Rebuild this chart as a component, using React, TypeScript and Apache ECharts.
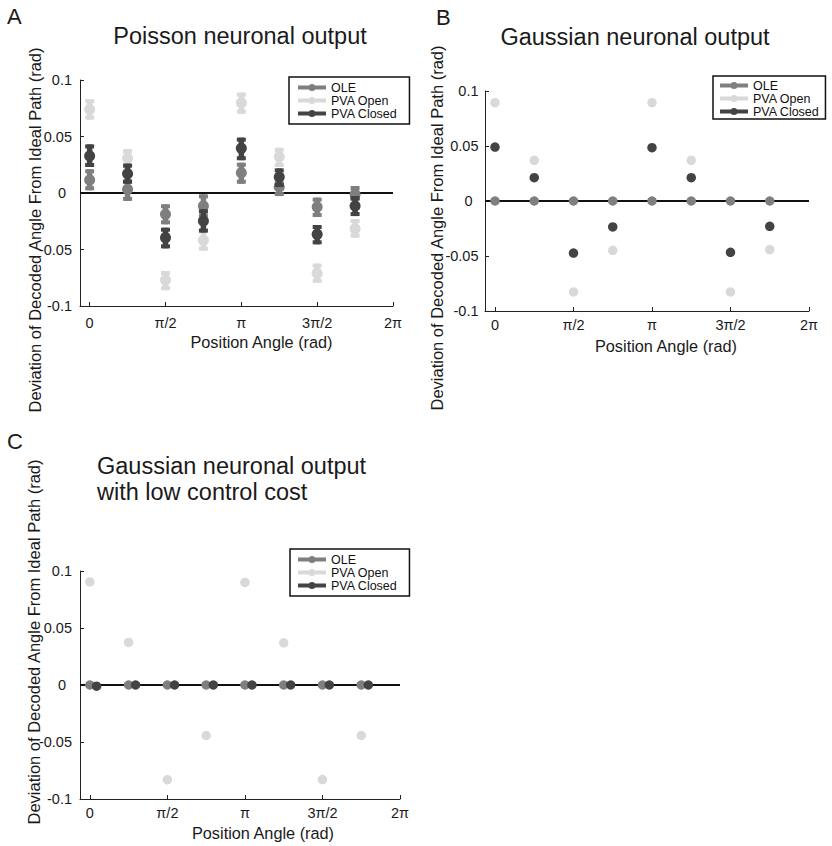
import React, { useEffect, useRef } from 'react';
import * as echarts from 'echarts';

const PI = Math.PI;
const FONT = '"Liberation Sans", Arial, Helvetica, sans-serif';

// Position angles (rad) where each condition was evaluated
const ANGLES = [0, PI / 4, PI / 2, (3 * PI) / 4, PI, (5 * PI) / 4, (3 * PI) / 2, (7 * PI) / 4];
const X_TICKS = [0, PI / 2, PI, (3 * PI) / 2, 2 * PI];
const X_TICK_LABELS = ['0', 'π/2', 'π', '3π/2', '2π'];
const SERIES_NAMES = ['OLE', 'PVA Open', 'PVA Closed'];
const COLORS = ['#7f7f7f', '#d9d9d9', '#434343'];

// Panel A: Poisson neuronal output (mean, lower, upper)
const A_OLE = [0.0115, 0.0033, -0.0189, -0.0115, 0.018, 0.0053, -0.0124, -0.0012];
const A_OLE_LO = [0.0024, -0.007, -0.0277, -0.0218, 0.0082, -0.0027, -0.0212, -0.007];
const A_OLE_HI = [0.021, 0.012, -0.01, -0.0012, 0.0268, 0.0106, -0.0041, 0.0062];
const A_OPEN = [0.074, 0.0307, -0.077, -0.0419, 0.0799, 0.0321, -0.0711, -0.0316];
const A_OPEN_LO = [0.065, 0.0224, -0.086, -0.051, 0.0702, 0.023, -0.0794, -0.0395];
const A_OPEN_HI = [0.083, 0.0387, -0.069, -0.032, 0.0888, 0.04, -0.0625, -0.023];
const A_CLOSED = [0.0327, 0.0171, -0.0395, -0.0248, 0.0395, 0.0142, -0.0366, -0.0115];
const A_CLOSED_LO = [0.023, 0.0082, -0.049, -0.035, 0.029, 0.0053, -0.0454, -0.0204];
const A_CLOSED_HI = [0.043, 0.026, -0.0307, -0.0144, 0.049, 0.0218, -0.0283, -0.0027];

// Panel B: Gaussian neuronal output
const B_OLE = [0, 0, 0, 0, 0, 0, 0, 0];
const B_OPEN = [0.0894, 0.037, -0.0827, -0.0448, 0.0894, 0.037, -0.0827, -0.0442];
const B_CLOSED = [0.049, 0.0212, -0.0473, -0.0236, 0.0485, 0.0212, -0.0467, -0.023];

// Panel C: Gaussian neuronal output with low control cost
const C_OLE = [0, 0, 0, 0, 0, 0, 0, 0];
const C_OPEN = [0.0904, 0.0373, -0.0831, -0.0443, 0.09, 0.037, -0.083, -0.0443];
const C_CLOSED = [-0.001, 0, 0, 0, 0, 0, 0, 0];
const C_CLOSED_X = [0.136, 0.926, 1.716, 2.501, 3.284, 4.068, 4.852, 5.642];

const LEGEND_ICON =
  'path://M0,1.5L28,1.5L28,5.5L0,5.5Z M10.5,3.5A3.5,3.5 0 1,1 17.5,3.5A3.5,3.5 0 1,1 10.5,3.5Z';

function xLabel(v: number) {
  for (let k = 0; k < X_TICKS.length; k++) if (Math.abs(v - X_TICKS[k]) < 1e-6) return X_TICK_LABELS[k];
  return '';
}
function yLabel(v: number) {
  if (Math.abs(v) < 1e-9) return '{z|0}';
  return String(parseFloat(v.toFixed(3)));
}

function makeXAxis(i: number, margin: number) {
  return {
    type: 'value',
    gridIndex: i,
    min: -0.2,
    max: 2 * PI,
    axisLine: { show: true, onZero: false, lineStyle: { color: '#222', width: 1 } },
    axisTick: { show: true, inside: true, length: 4, customValues: X_TICKS, lineStyle: { color: '#222' } },
    axisLabel: {
      customValues: X_TICKS,
      formatter: xLabel,
      margin,
      color: '#1a1a1a',
      fontSize: 14.5,
      fontFamily: FONT,
    },
    splitLine: { show: false },
  };
}
function makeYAxis(i: number, margin: number) {
  return {
    type: 'value',
    gridIndex: i,
    min: -0.1,
    max: 0.1,
    interval: 0.05,
    axisLine: { show: true, onZero: false, lineStyle: { color: '#222', width: 1 } },
    axisTick: { show: true, inside: true, length: 4, lineStyle: { color: '#222' } },
    axisLabel: {
      formatter: yLabel,
      margin,
      color: '#1a1a1a',
      fontSize: 14.5,
      fontFamily: FONT,
      rich: { z: { fontSize: 14.5, fontFamily: FONT, color: '#1a1a1a', padding: [0, 6, 0, 0] } },
    },
    splitLine: { show: false },
  };
}
function zeroLine(i: number) {
  return {
    type: 'line',
    xAxisIndex: i,
    yAxisIndex: i,
    data: [],
    silent: true,
    z: 1,
    markLine: {
      z: 1,
      silent: true,
      symbol: ['none', 'none'],
      label: { show: false },
      lineStyle: { color: '#111', width: 2.2, type: 'solid' },
      emphasis: { disabled: true },
      data: [{ yAxis: 0 }],
    },
  };
}
function scatter(i: number, s: number, xs: number[], ys: number[], size: number, z: number) {
  return {
    type: 'scatter',
    name: SERIES_NAMES[s],
    xAxisIndex: i,
    yAxisIndex: i,
    symbol: 'circle',
    symbolSize: size,
    itemStyle: { color: COLORS[s], opacity: 1 },
    z,
    data: xs.map((x, k) => [x, ys[k]]),
  };
}
function errorBars(s: number, lo: number[], hi: number[], z: number) {
  return {
    type: 'custom',
    name: SERIES_NAMES[s],
    xAxisIndex: 0,
    yAxisIndex: 0,
    z,
    itemStyle: { color: COLORS[s] },
    encode: { x: 0, y: [1, 2] },
    data: ANGLES.map((x, k) => [x, lo[k], hi[k]]),
    renderItem: (params: any, api: any) => {
      const x = api.value(0);
      const top = api.coord([x, api.value(2)]);
      const bot = api.coord([x, api.value(1)]);
      const color = COLORS[s];
      const cw = 4.5;
      return {
        type: 'group',
        children: [
          { type: 'line', shape: { x1: top[0], y1: top[1], x2: bot[0], y2: bot[1] }, style: { stroke: color, lineWidth: 5.5 } },
          { type: 'line', shape: { x1: top[0] - cw, y1: top[1] + 2, x2: top[0] + cw, y2: top[1] + 2 }, style: { stroke: color, lineWidth: 4 } },
          { type: 'line', shape: { x1: bot[0] - cw, y1: bot[1] - 2, x2: bot[0] + cw, y2: bot[1] - 2 }, style: { stroke: color, lineWidth: 4 } },
        ],
      };
    },
  };
}
function legend(left: number, top: number, padding: number[]) {
  return {
    orient: 'vertical',
    left,
    top,
    icon: LEGEND_ICON,
    itemWidth: 28,
    itemHeight: 7,
    itemGap: 0,
    selectedMode: false,
    data: SERIES_NAMES,
    textStyle: { fontFamily: FONT, fontSize: 12.5, color: '#111', lineHeight: 12.5, padding: 0 },
    borderColor: '#111',
    borderWidth: 1.5,
    backgroundColor: '#fff',
    padding,
  };
}
function txt(x: number, y: number, text: string, size: number, align = 'center', rotation = 0) {
  return {
    type: 'text',
    x,
    y,
    rotation,
    silent: true,
    style: {
      text,
      fill: '#1a1a1a',
      font: `${size}px ${FONT}`,
      textAlign: align,
      textVerticalAlign: 'middle',
    },
  };
}

export default function App() {
  const ref = useRef<HTMLDivElement>(null);
  useEffect(() => {
    if (!ref.current) return;
    const chart = echarts.init(ref.current, undefined, { renderer: 'svg' });
    const series: any[] = [
      zeroLine(0),
      zeroLine(1),
      zeroLine(2),
      // Panel A
      errorBars(0, A_OLE_LO, A_OLE_HI, 10),
      scatter(0, 0, ANGLES, A_OLE, 11, 11),
      errorBars(1, A_OPEN_LO, A_OPEN_HI, 12),
      scatter(0, 1, ANGLES, A_OPEN, 11, 13),
      errorBars(2, A_CLOSED_LO, A_CLOSED_HI, 14),
      scatter(0, 2, ANGLES, A_CLOSED, 11, 15),
      // Panel B
      scatter(1, 1, ANGLES, B_OPEN, 9.5, 11),
      scatter(1, 2, ANGLES, B_CLOSED, 9.5, 12),
      scatter(1, 0, ANGLES, B_OLE, 9.5, 13),
      // Panel C
      scatter(2, 0, ANGLES, C_OLE, 9.5, 11),
      scatter(2, 1, ANGLES, C_OPEN, 9.5, 12),
      scatter(2, 2, C_CLOSED_X, C_CLOSED, 9.5, 13),
    ];
    chart.setOption({
      animation: false,
      backgroundColor: '#fff',
      textStyle: { fontFamily: FONT },
      grid: [
        { left: 80, top: 80, width: 313, height: 226 },
        { left: 485, top: 91, width: 324, height: 220 },
        { left: 80, top: 571, width: 320, height: 228 },
      ],
      xAxis: [makeXAxis(0, 9.5), makeXAxis(1, 6), makeXAxis(2, 6)],
      yAxis: [makeYAxis(0, 8), makeYAxis(1, 6.5), makeYAxis(2, 8)],
      legend: [
        legend(289, 77, [4, 12, 4, 9]),
        legend(713, 76, [3, 6, 1, 7]),
        legend(290, 549, [4, 12, 4, 8]),
      ],
      series,
      graphic: [
        txt(7, 16, 'A', 22, 'left'),
        txt(436, 17, 'B', 22, 'left'),
        txt(7, 441, 'C', 22, 'left'),
        txt(240, 35.5, 'Poisson neuronal output', 23.5),
        txt(635, 36.5, 'Gaussian neuronal output', 23.5),
        txt(97, 466, 'Gaussian neuronal output', 23.5, 'left'),
        txt(97, 492, 'with low control cost', 23.5, 'left'),
        txt(35, 230, 'Deviation of Decoded Angle From Ideal Path (rad)', 16.5, 'center', PI / 2),
        txt(437, 228, 'Deviation of Decoded Angle From Ideal Path (rad)', 16.5, 'center', PI / 2),
        txt(34, 642, 'Deviation of Decoded Angle From Ideal Path (rad)', 16.5, 'center', PI / 2),
        txt(261.5, 341.5, 'Position Angle (rad)', 16.3),
        txt(666, 346, 'Position Angle (rad)', 16.3),
        txt(263, 833, 'Position Angle (rad)', 16.3),
      ],
    });
    return () => chart.dispose();
  }, []);
  return <div ref={ref} style={{ position: 'absolute', left: 0, top: 0, width: 832, height: 846 }} />;
}
